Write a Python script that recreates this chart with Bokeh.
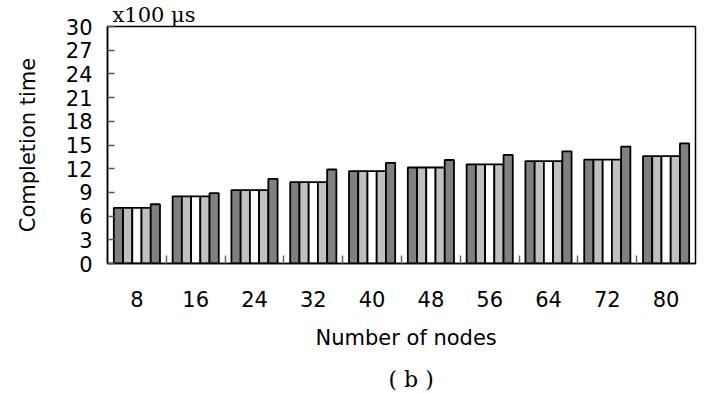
from bokeh.plotting import figure
from bokeh.models import FixedTicker, Range1d, Title, ColumnDataSource
from bokeh.embed import file_html
from bokeh.resources import INLINE

# Node counts on the x axis
nodes = [8, 16, 24, 32, 40, 48, 56, 64, 72, 80]

# Completion time (x100 us) for the five schemes
series_a = [7.05, 8.5, 9.3, 10.3, 11.7, 12.15, 12.55, 12.95, 13.15, 13.6]
series_b = [7.05, 8.5, 9.3, 10.3, 11.7, 12.15, 12.55, 12.95, 13.15, 13.6]
series_c = [7.05, 8.5, 9.3, 10.3, 11.7, 12.15, 12.55, 12.95, 13.15, 13.6]
series_d = [7.05, 8.5, 9.3, 10.3, 11.7, 12.15, 12.55, 12.95, 13.15, 13.6]
series_e = [7.5, 8.9, 10.7, 11.9, 12.75, 13.1, 13.75, 14.2, 14.8, 15.2]

y_ticks = list(range(0, 31, 3))

series = [series_a, series_b, series_c, series_d, series_e]
fills = ["#808080", "#c0c0c0", "#ffffff", "#c0c0c0", "#808080"]

SANS = "DejaVu Sans"
SERIF = "DejaVu Serif"

p = figure(width=707, height=394, output_backend="svg", toolbar_location=None,
           x_range=Range1d(0, len(nodes)), y_range=Range1d(0, 30),
           min_border_left=107, min_border_right=12, min_border_top=26,
           min_border_bottom=131)

bar_w = 0.157
centers = [i + 0.5 for i in range(len(nodes))]
for k, (vals, col) in enumerate(zip(series, fills)):
    xs = [c + (k - 2) * bar_w for c in centers]
    src = ColumnDataSource(dict(x=xs, top=vals))
    p.vbar(x="x", top="top", bottom=0, width=bar_w, source=src,
           fill_color=col, line_color="black", line_width=1.8)

p.xgrid.visible = False
p.ygrid.visible = False
p.outline_line_color = "black"
p.outline_line_width = 1.5

# y axis
ya = p.yaxis[0]
ya.ticker = FixedTicker(ticks=y_ticks)
ya.major_tick_in = 7
ya.major_tick_out = 0
ya.minor_tick_line_color = None
ya.major_tick_line_color = "#555555"
ya.major_tick_line_width = 1.5
ya.axis_line_color = "black"
ya.axis_line_width = 1.5
ya.major_label_text_font = SANS
ya.major_label_text_font_size = "21px"
ya.major_label_text_color = "black"
ya.major_label_standoff = 15
ya.axis_label = "Completion time"
ya.axis_label_text_font = SANS
ya.axis_label_text_font_size = "21px"
ya.axis_label_text_font_style = "normal"
ya.axis_label_text_color = "black"
ya.axis_label_standoff = 23

# x axis: labels at group centres, short marks between groups
xa = p.xaxis[0]
xa.ticker = FixedTicker(ticks=centers, minor_ticks=list(range(1, len(nodes))))
xa.major_label_overrides = {c: str(n) for c, n in zip(centers, nodes)}
xa.major_tick_line_color = None
xa.minor_tick_in = 8
xa.minor_tick_out = 0
xa.minor_tick_line_color = "#666666"
xa.minor_tick_line_width = 1.5
xa.axis_line_color = "black"
xa.axis_line_width = 1.5
xa.major_label_text_font = SANS
xa.major_label_text_font_size = "21px"
xa.major_label_text_color = "black"
xa.major_label_standoff = 21

# unit note above the frame
p.title.text = "x100  \u03bcs"
p.title.text_font = SERIF
p.title.text_font_size = "21px"
p.title.text_font_style = "normal"
p.title.text_color = "black"
p.title.align = "left"
p.title.offset = 5
p.title.standoff = 0

# x axis caption and panel tag underneath
p.add_layout(Title(text="Number of nodes", align="left", text_font=SANS,
                   text_font_size="21px", text_font_style="normal",
                   text_color="black", offset=208, standoff=29),
             "below")
p.add_layout(Title(text="( b )", align="left", text_font=SERIF,
                   text_font_size="22px", text_font_style="normal",
                   text_color="black", offset=281, standoff=0),
             "below")

open("out.html", "w").write(file_html(p, INLINE))
